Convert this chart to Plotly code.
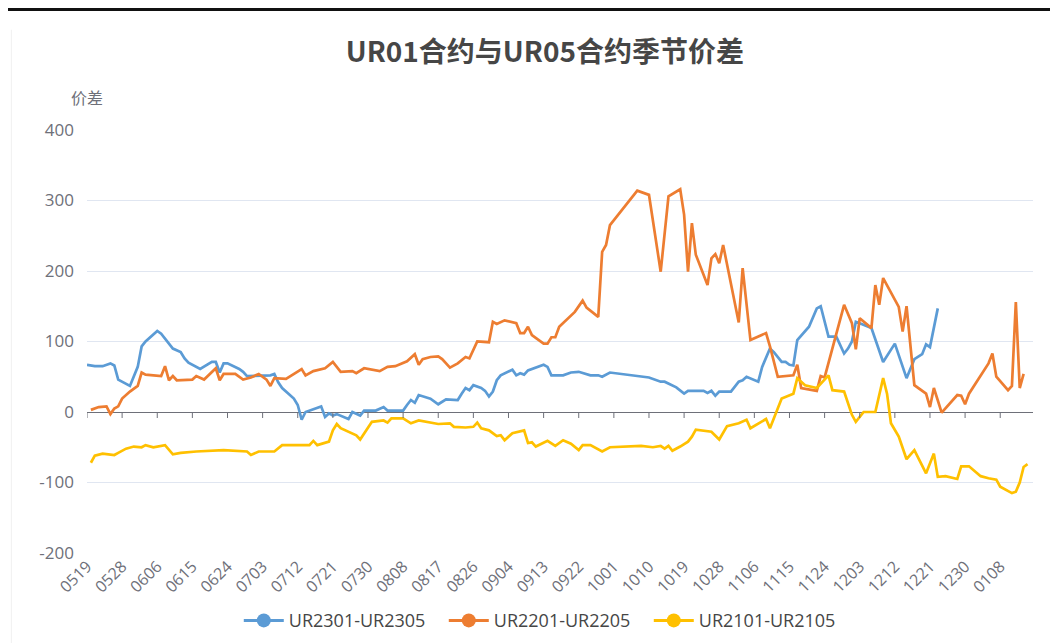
import pandas as pd
import plotly.graph_objects as go

# ---- categories: every calendar day shown on the axis ----
categories = [d.strftime("%m%d") for d in pd.date_range("2022-05-19", "2023-01-16")]
tick_labels = categories[::9]
y_ticks = [-200, -100, 0, 100, 200, 300, 400]

# ---- UR2301-UR2305 ----
blue_dates = ["0519","0521","0523","0525","0526","0527","0530","0601","0602","0603","0606","0607","0610","0612",
              "0613","0614","0617","0620","0621","0622","0623","0624","0627","0628","0629","0702","0705","0706",
              "0707","0708","0711","0712","0713","0714","0718","0719","0720","0721","0722","0725","0726","0728",
              "0729","0801","0803","0804","0808","0809","0810","0811","0812","0815","0817","0819","0822","0823",
              "0824","0825","0826","0828","0829","0830","0831","0901","0902","0905","0906","0907","0908","0909",
              "0913","0914","0915","0918","0920","0922","0925","0927","0928","0930","1010","1013","1014","1017",
              "1019","1020","1024","1025","1026","1027","1028","1031","1102","1103","1104","1107","1108","1110",
              "1111","1113","1114","1115","1116","1117","1120","1122","1123","1125","1127","1129","1130","1201",
              "1202","1203","1206","1209","1212","1215","1217","1219","1220","1221","1223"]
blue_values = [67,65,65,69,66,46,37,64,93,100,115,111,90,85,
               76,70,61,71,71,56,69,69,61,57,51,52,52,54,
               42,34,19,10,-11,0,8,-7,-2,-5,-3,-10,0,-5,
               2,2,7,2,2,10,17,13,24,19,11,18,17,26,
               34,31,38,34,30,22,29,45,52,60,52,55,53,59,
               67,64,52,52,56,57,52,52,50,56,49,43,43,35,
               26,30,30,27,30,23,29,29,43,45,50,43,64,90,
               85,71,71,67,66,102,121,147,150,107,107,83,90,100,
               128,126,119,71,97,48,75,82,96,92,147]

# ---- UR2201-UR2205 ----
orange_dates = ["0520","0522","0524","0525","0526","0527","0528","0530","0601","0602","0603","0607","0608","0609",
                "0610","0611","0615","0616","0618","0621","0622","0623","0626","0627","0628","0630","0702","0704",
                "0705","0706","0709","0713","0714","0716","0719","0721","0723","0726","0727","0729","0802","0804",
                "0806","0809","0811","0812","0813","0815","0817","0818","0820","0822","0824","0825","0827","0830",
                "0831","0901","0903","0906","0907","0908","0909","0910","0913","0914","0915","0916","0917","0921",
                "0923","0924","0927","0928","0929","0930","1007","1010","1013","1015","1018","1019","1020","1021",
                "1022","1025","1026","1027","1028","1029","1102","1103","1105","1109","1110","1112","1116","1117",
                "1118","1122","1123","1124","1129","1201","1202","1203","1206","1207","1208","1209","1213","1214",
                "1215","1217","1220","1221","1222","1224","1228","1229","1230","1231","0105","0106","0107","0110",
                "0111","0112","0113","0114"]
orange_values = [3,7,8,-3,5,8,19,29,37,56,53,51,65,45,
                 51,45,46,51,46,62,45,54,54,50,46,49,54,46,
                 37,48,47,61,52,58,62,71,57,58,55,62,58,64,
                 65,72,82,67,75,78,79,75,63,69,78,76,100,99,
                 128,125,130,126,112,112,121,109,97,97,106,106,121,142,
                 158,148,135,227,237,265,314,308,199,306,316,280,199,268,
                 223,180,218,224,211,237,127,204,102,112,93,50,52,67,
                 34,30,51,49,152,126,89,133,119,180,152,190,149,114,
                 150,38,26,7,34,-1,24,23,11,26,69,83,50,31,
                 37,156,34,54]

# ---- UR2101-UR2105 ----
yellow_dates = ["0520","0521","0523","0526","0527","0529","0531","0602","0603","0605","0608","0610","0612","0616",
                "0623","0629","0630","0702","0706","0708","0710","0715","0716","0717","0720","0721","0722","0723",
                "0727","0728","0731","0803","0804","0805","0808","0810","0812","0817","0820","0821","0824","0826",
                "0827","0828","0830","0901","0902","0903","0905","0908","0909","0910","0911","0914","0916","0918",
                "0920","0922","0923","0925","0928","0930","1008","1011","1013","1014","1015","1016","1018","1020",
                "1021","1022","1026","1028","1030","1102","1104","1105","1109","1110","1113","1116","1117","1119",
                "1122","1123","1125","1126","1129","1201","1202","1204","1207","1209","1210","1211","1213","1215",
                "1217","1220","1222","1223","1225","1228","1229","1231","0103","0105","0107","0108","0111","0112",
                "0113","0114","0115"]
yellow_values = [-72,-62,-59,-61,-58,-52,-49,-50,-47,-50,-47,-60,-58,-56,
                 -54,-56,-61,-56,-56,-47,-47,-47,-41,-47,-42,-26,-17,-23,
                 -33,-39,-14,-12,-15,-9,-9,-16,-12,-17,-16,-21,-22,-21,
                 -15,-23,-26,-34,-33,-40,-30,-26,-44,-43,-49,-41,-48,-40,
                 -45,-54,-47,-47,-56,-50,-48,-50,-48,-52,-48,-55,-49,-42,
                 -35,-25,-28,-39,-20,-16,-11,-23,-10,-23,19,26,48,38,
                 34,40,52,31,29,-4,-14,0,0,48,26,-16,-35,-67,
                 -54,-87,-59,-92,-91,-95,-77,-77,-91,-94,-96,-106,-115,-113,
                 -100,-78,-74]

series = [
    ("UR2301-UR2305", blue_dates, blue_values, "#5B9BD5"),
    ("UR2201-UR2205", orange_dates, orange_values, "#ED7D31"),
    ("UR2101-UR2105", yellow_dates, yellow_values, "#FFC000"),
]

AXIS_GREY = "#6E7079"
GRID = "#E0E6F1"

fig = go.Figure()
for name, xs, ys, color in series:
    fig.add_trace(go.Scatter(x=xs, y=ys, mode="lines", name=name, showlegend=False,
                             line=dict(color=color, width=2.7), hoverinfo="x+y+name"))
for name, xs, ys, color in series:
    fig.add_trace(go.Scatter(x=[None], y=[None], mode="lines+markers", name=name,
                             line=dict(color=color, width=3),
                             marker=dict(color=color, size=14)))

shapes = []
# tick marks hanging from the zero axis line
for lab in tick_labels:
    idx = categories.index(lab)
    shapes.append(dict(type="line", xref="x", yref="y", x0=idx, x1=idx,
                       ysizemode="pixel", yanchor=0, y0=0, y1=-6,
                       line=dict(color=AXIS_GREY, width=1)))
# page frame decorations
shapes.append(dict(type="line", xref="paper", yref="paper", x0=-0.087, x1=1.03, y0=1.285, y1=1.285,
                   line=dict(color="#111111", width=3)))
shapes.append(dict(type="line", xref="paper", yref="paper", x0=-0.08, x1=-0.08, y0=1.237, y1=-0.22,
                   line=dict(color="#F0F0F0", width=1)))

# the page body has an 8px default margin, so the figure is sized/offset to compensate
fig.update_layout(
    width=1050, height=635,
    margin=dict(l=79, r=25, t=122, b=90, autoexpand=False),
    paper_bgcolor="white", plot_bgcolor="white",
    font=dict(family="Open Sans, Noto Sans CJK SC, sans-serif", color=AXIS_GREY),
    title=dict(text="UR01合约与UR05合约季节价差", xref="paper", x=0.484, xanchor="center",
               yref="container", y=0.93, yanchor="middle",
               font=dict(family="Noto Sans CJK SC", size=28, color="#464646", weight="bold")),
    xaxis=dict(type="category", categoryorder="array", categoryarray=categories,
               range=[0, 242.4], tickmode="array", tickvals=tick_labels, ticktext=tick_labels,
               tickangle=-45, tickfont=dict(size=16, color=AXIS_GREY), automargin=False,
               showgrid=False, showline=False, ticks="", zeroline=False),
    yaxis=dict(range=[-200, 400], tickmode="array", tickvals=y_ticks,
               ticktext=[str(v) for v in y_ticks], automargin=False,
               tickfont=dict(size=17, color=AXIS_GREY), ticklabelstandoff=12,
               showgrid=True, gridcolor=GRID, gridwidth=1,
               zeroline=True, zerolinecolor=AXIS_GREY, zerolinewidth=1,
               showline=False, ticks=""),
    legend=dict(orientation="h", x=0.4855, xanchor="center", y=-0.16, yanchor="middle",
                font=dict(size=18, color="#464646"), itemwidth=40, traceorder="normal",
                entrywidth=150, entrywidthmode="pixels"),
    shapes=shapes,
    annotations=[dict(text="价差", xref="paper", yref="paper", x=0, y=1, xanchor="center",
                      yanchor="middle", yshift=33, showarrow=False,
                      font=dict(family="Noto Sans CJK SC", size=16, color=AXIS_GREY))],
)

fig.write_html("out.html")
